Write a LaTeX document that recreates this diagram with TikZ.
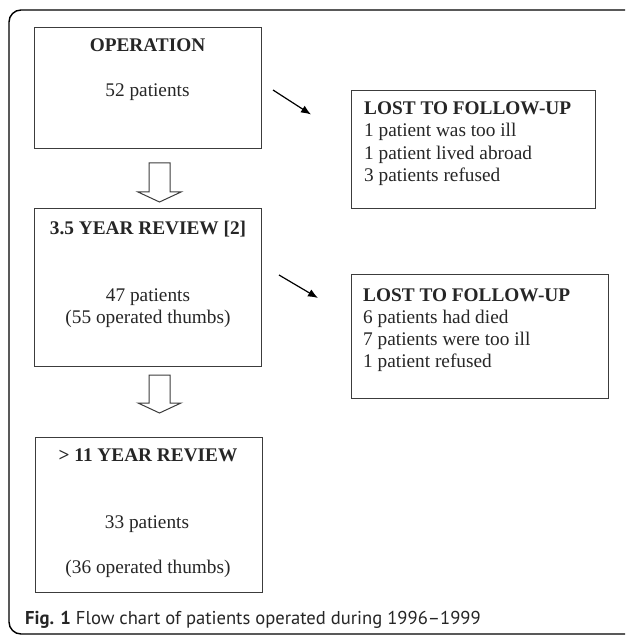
\documentclass[tikz,border=0pt]{standalone}
\usepackage{fontspec}
\setmainfont{Liberation Serif}
\newfontfamily\capfont{PT Sans}
\usetikzlibrary{arrows.meta}
\definecolor{boxline}{RGB}{60,60,60}
\tikzset{
  box/.style={draw=boxline, line width=1.1pt},
  txt/.style={anchor=base, inner sep=0pt, font=\fontsize{19.3}{22}\selectfont, text=black!85},
  ltxt/.style={anchor=base west, inner sep=0pt, font=\fontsize{19.3}{22}\selectfont, text=black!85},
  hollow/.style={draw=boxline, line width=1pt, fill=white},
  diag/.style={line width=1.2pt, -{Latex[length=10pt,width=8pt]}},
}
\begin{document}
\begin{tikzpicture}[x=1pt,y=-1pt]
\clip (0,0) rectangle (625,636);
\fill[white] (0,0) rectangle (625,636);
% outer frame
\draw[line width=1.4pt, rounded corners=12pt] (9,10) rectangle (700,634);

% main boxes
\node[box, minimum width=227, minimum height=121, anchor=north west, inner sep=0pt] (op) at (34,27) {};
\node[box, minimum width=227, minimum height=158, anchor=north west, inner sep=0pt] (r35) at (34,208) {};
\node[box, minimum width=227, minimum height=155, anchor=north west, inner sep=0pt] (r11) at (35,437) {};
\node[box, minimum width=244, minimum height=118, anchor=north west, inner sep=0pt] (l1) at (351,90) {};
\node[box, minimum width=257, minimum height=124, anchor=north west, inner sep=0pt] (l2) at (351,274) {};

% texts
\node[txt] (opT) at (147.5,52) {\textbf{OPERATION}};
\node[txt] (opN) at (147.5,97) {52 patients};

\node[txt] (rT) at (148,234) {\textbf{3.5 YEAR REVIEW [2]}};
\node[txt] (rN) at (148,301) {47 patients};
\node[txt] (rM) at (148,323) {(55 operated thumbs)};

\node[txt] (eT) at (148,461) {\textbf{> 11 YEAR REVIEW}};
\node[txt] (eN) at (147,528) {33 patients};
\node[txt] (eM) at (148,573) {(36 operated thumbs)};

\node[ltxt] (l1a) at (364,115) {\textbf{LOST TO FOLLOW-UP}};
\node[ltxt] (l1b) at (364,137) {1 patient was too ill};
\node[ltxt] (l1c) at (364,159.5) {1 patient lived abroad};
\node[ltxt] (l1d) at (364,182) {3 patients refused};

\node[ltxt] (l2a) at (363,301) {\textbf{LOST TO FOLLOW-UP}};
\node[ltxt] (l2b) at (363,323) {6 patients had died};
\node[ltxt] (l2c) at (363,345) {7 patients were too ill};
\node[ltxt] (l2d) at (363,367) {1 patient refused};

% diagonal arrows
\coordinate (d1s) at (273,90);
\coordinate (d1e) at (311,114.5);
\draw[diag] (d1s) -- (d1e);
\coordinate (d2s) at (279,275);
\coordinate (d2e) at (318,298);
\draw[diag] (d2s) -- (d2e);

% hollow block arrows
\draw[hollow] (149,163) -- (170,163) -- (170,192) -- (181,192) -- (159.5,202) -- (138,192) -- (149,192) -- cycle;
\draw[hollow] (149,375) -- (170,375) -- (170,403) -- (181,403) -- (159.5,413) -- (138,403) -- (149,403) -- cycle;

% caption
\node[anchor=base west, inner sep=0pt, font=\capfont\fontsize{18.6}{22}\selectfont, text=black!85] (cap) at (25,624) {\textbf{Fig. 1} Flow chart of patients operated during 1996–1999};
\end{tikzpicture}
\end{document}
